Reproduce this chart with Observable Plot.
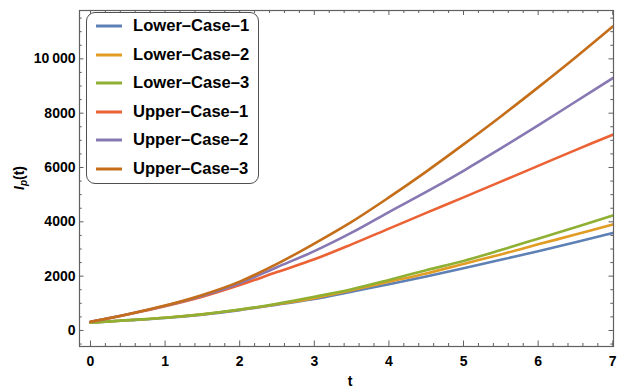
<!DOCTYPE html>
<html>
<head>
<meta charset="utf-8">
<script src="https://cdn.jsdelivr.net/npm/d3@7"></script>
<script src="https://cdn.jsdelivr.net/npm/@observablehq/plot@0.6"></script>
<style>
  body { margin: 0; background: #fff; }
  #wrap { position: relative; width: 622px; height: 391px; font-family: "Liberation Sans", Arial, sans-serif; }
  #legend { position: absolute; left: 86px; top: 12px; width: 171px; height: 170px; border: 1.6px solid #505050; border-radius: 9px; background: #fff; }
  .row { position: absolute; left: 0; height: 20px; line-height: 20px; font-size: 16.6px; font-weight: bold; color: #000; white-space: nowrap; }
  .row svg { position: absolute; left: 8px; top: 8px; }
  .row span { position: absolute; left: 46px; top: 0; }
</style>
</head>
<body>
<div id="wrap"></div>
<script>
const t = [0, 0.5, 1, 1.5, 2, 2.5, 3, 3.5, 4, 4.5, 5, 5.5, 6, 6.5, 7];
const lower1 = [290, 375, 462, 585, 750, 950, 1160, 1430, 1700, 1990, 2290, 2600, 2920, 3250, 3590];
const lower2 = [290, 378, 466, 592, 760, 965, 1190, 1480, 1790, 2100, 2450, 2800, 3170, 3530, 3900];
const lower3 = [290, 380, 470, 598, 770, 985, 1240, 1520, 1860, 2220, 2560, 2960, 3380, 3800, 4232];
const upper1 = [320, 590, 890, 1240, 1670, 2150, 2620, 3170, 3750, 4330, 4900, 5480, 6060, 6640, 7207];
const upper2 = [320, 600, 910, 1280, 1740, 2330, 2920, 3600, 4360, 5100, 5880, 6700, 7550, 8420, 9288];
const upper3 = [320, 600, 920, 1310, 1800, 2450, 3200, 4000, 4900, 5850, 6850, 7880, 8950, 10050, 11190];

const seriesNames = ["Lower\u2013Case\u20131", "Lower\u2013Case\u20132", "Lower\u2013Case\u20133", "Upper\u2013Case\u20131", "Upper\u2013Case\u20132", "Upper\u2013Case\u20133"];
const seriesValues = [lower1, lower2, lower3, upper1, upper2, upper3];
const colors = ["#5E81B5", "#E19C24", "#8FB032", "#EB6235", "#8778B3", "#C56E1A"];

const xTicks = [0, 1, 2, 3, 4, 5, 6, 7];
const xTickLabels = ["0", "1", "2", "3", "4", "5", "6", "7"];
const xMinorTicks = d3.range(0, 7.01, 0.2).filter(v => Math.abs(v - Math.round(v)) > 1e-6);
const yTicks = [0, 2000, 4000, 6000, 8000, 10000];
const yTickLabels = ["0", "2000", "4000", "6000", "8000", "10\u2009000"];
const yMinorTicks = d3.range(-500, 11600, 500).filter(v => v % 2000 !== 0);

const rows = [];
seriesNames.forEach((name, i) => {
  t.forEach((tt, j) => rows.push({series: name, t: tt, v: seriesValues[i][j]}));
});

const W = 622, H = 391;
const mL = 79, mR = 9, mT = 10, mB = 45;
const pw = W - mL - mR, ph = H - mT - mB;
const frameColor = "#606060";

const plot = Plot.plot({
  width: W, height: H,
  marginLeft: mL, marginRight: mR, marginTop: mT, marginBottom: mB,
  style: {fontFamily: "Liberation Sans, Arial, sans-serif", background: "#fff"},
  x: {domain: [-0.147, 7.01]},
  y: {domain: [-590, 11780]},
  color: {domain: seriesNames, range: colors},
  marks: [
    Plot.tickX(xTicks, {x: d => d, insetTop: ph - 5.5, stroke: frameColor}),
    Plot.tickX(xMinorTicks, {x: d => d, insetTop: ph - 3, stroke: frameColor}),
    Plot.tickX(xTicks, {x: d => d, insetBottom: ph - 5, stroke: frameColor}),
    Plot.tickX(xMinorTicks, {x: d => d, insetBottom: ph - 3, stroke: frameColor}),
    Plot.tickY(yTicks, {y: d => d, insetRight: pw - 4.5, stroke: frameColor}),
    Plot.tickY(yMinorTicks, {y: d => d, insetRight: pw - 2.7, stroke: frameColor}),
    Plot.tickY(yTicks, {y: d => d, insetLeft: pw - 4.5, stroke: frameColor}),
    Plot.tickY(yMinorTicks, {y: d => d, insetLeft: pw - 2.7, stroke: frameColor}),
    Plot.axisX({anchor: "bottom", ticks: xTicks, tickSize: 0, tickPadding: 10, tickFormat: d => xTickLabels[xTicks.indexOf(d)], fontSize: 14, fontWeight: "bold", fill: "#000", label: null}),
    Plot.axisY({anchor: "left", ticks: yTicks, tickSize: 0, tickPadding: 4, tickFormat: d => yTickLabels[yTicks.indexOf(d)], fontSize: 14, fontWeight: "bold", fill: "#000", label: null}),
    Plot.line(rows, {x: "t", y: "v", z: "series", stroke: "series", strokeWidth: 2.6, curve: "catmull-rom"}),
    Plot.frame({stroke: frameColor, strokeWidth: 1.2})
  ]
});

const wrap = document.getElementById("wrap");
wrap.appendChild(plot);

const svg = d3.select(plot);
svg.append("text")
  .attr("x", 350).attr("y", 386)
  .attr("text-anchor", "middle")
  .attr("font-size", 14).attr("font-weight", "bold")
  .attr("font-family", "Liberation Sans, Arial, sans-serif")
  .text("t");
const yl = svg.append("text")
  .attr("transform", "translate(24,178) rotate(-90)")
  .attr("text-anchor", "middle")
  .attr("font-size", 14).attr("font-weight", "bold")
  .attr("font-family", "Liberation Sans, Arial, sans-serif");
yl.append("tspan").attr("font-style", "italic").text("I");
yl.append("tspan").attr("font-style", "italic").attr("font-size", 10).attr("dy", 3).text("p");
yl.append("tspan").attr("dy", -3).text("(t)");

const legend = document.createElement("div");
legend.id = "legend";
seriesNames.forEach((name, i) => {
  const row = document.createElement("div");
  row.className = "row";
  row.style.top = (3 + i * 28.5) + "px";
  row.innerHTML = `<svg width="28" height="4"><line x1="1" y1="2" x2="27" y2="2" stroke="${colors[i]}" stroke-width="3"/></svg><span>${name}</span>`;
  legend.appendChild(row);
});
wrap.appendChild(legend);
</script>
</body>
</html>
